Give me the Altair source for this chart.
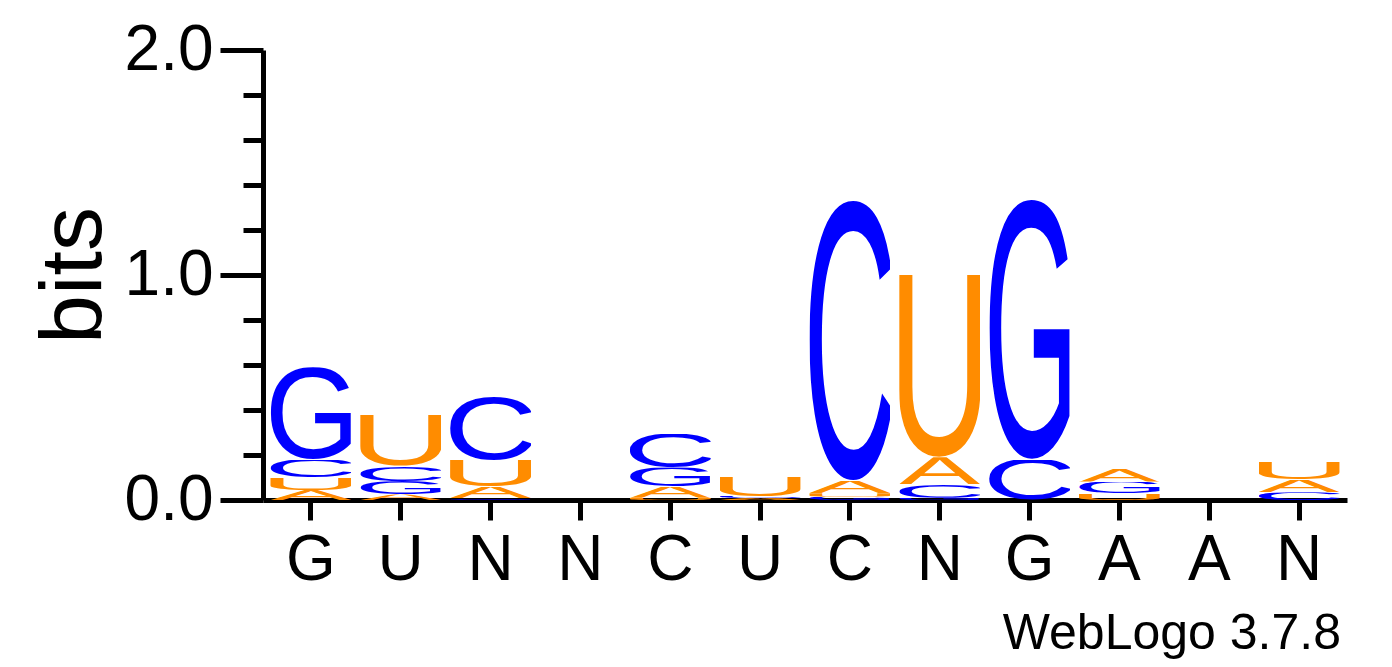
import base64
import altair as alt
import pandas as pd

# sequence logo: information content (bits) per letter at each position
positions = list(range(1, 13))
consensus = ["G", "U", "N", "N", "C", "U", "C", "N", "G", "A", "A", "N"]
bits_A = [0.045, 0.025, 0.05, 0.0, 0.05, 0.008, 0.055, 0.12, 0.0, 0.058, 0.0, 0.055]
bits_C = [0.08, 0.065, 0.28, 0.0, 0.15, 0.01, 1.25, 0.06, 0.18, 0.0, 0.0, 0.035]
bits_G = [0.41, 0.06, 0.008, 0.0, 0.085, 0.0, 0.015, 0.01, 1.16, 0.052, 0.0, 0.0]
bits_U = [0.055, 0.23, 0.12, 0.0, 0.01, 0.085, 0.015, 0.81, 0.0, 0.03, 0.0, 0.08]

COLORS = {"A": "#ff8c00", "U": "#ff8c00", "C": "#0000ff", "G": "#0000ff"}
# glyph box inside a 100-wide stretched letter: (left, right, top, bottom)
GLYPH_BOX = {"A": (0, 100, 68.8, 0), "C": (7, 93, 70.2, -1.2),
             "G": (6, 91, 70.2, -1.2), "U": (11, 89, 68.8, -1.2)}


def glyph_url(letter):
    l, r, t, b = GLYPH_BOX[letter]
    svg = (
        f'<svg xmlns="http://www.w3.org/2000/svg" viewBox="{l} {-t} {r - l} {t - b}" '
        f'preserveAspectRatio="none">'
        f'<text x="0" y="0" textLength="100" lengthAdjust="spacingAndGlyphs" '
        f'font-family="Liberation Sans, Arial, sans-serif" font-size="100" '
        f'fill="{COLORS[letter]}">{letter}</text></svg>'
    )
    return "data:image/svg+xml;base64," + base64.b64encode(svg.encode()).decode()


rows = []
for letter, vals in [("A", bits_A), ("C", bits_C), ("G", bits_G), ("U", bits_U)]:
    for p, v in zip(positions, vals):
        if v > 0:
            rows.append({"pos": p, "letter": letter, "bits": v})
df = pd.DataFrame(rows).sort_values(["pos", "bits"])
df["y1"] = df.groupby("pos")["bits"].cumsum()
df["y0"] = df["y1"] - df["bits"]
df["url"] = df["letter"].map(glyph_url)

label_expr = "[" + ",".join(f"'{c}'" for c in consensus) + "][datum.value - 1]"

chart = alt.Chart(df).mark_image(aspect=False).encode(
    x=alt.X("pos:O", title=None,
            scale=alt.Scale(domain=positions, paddingInner=0.1, paddingOuter=0.083),
            axis=alt.Axis(labelExpr=label_expr, labelAngle=0, tickSize=20,
                          labelFontSize=64, labelPadding=8)),
    y=alt.Y("y0:Q", title="bits", scale=alt.Scale(domain=[0, 2]),
            axis=alt.Axis(values=[0, 0.2, 0.4, 0.6, 0.8, 1.0, 1.2, 1.4, 1.6, 1.8, 2.0],
                          tickSize={"condition": {"test": "datum.value % 1 === 0", "value": 43},
                                    "value": 20},
                          labelExpr="datum.value % 1 === 0 ? format(datum.value, '.1f') : ''",
                          labelFontSize=64, labelPadding=7,
                          titleFontSize=88, titleFontWeight="normal", titlePadding=6)),
    y2="y1:Q",
    url="url:N",
).properties(
    width=1084,
    height=450,
    autosize=alt.AutoSizeParams(type="none"),
    padding={"left": 255, "top": 42, "right": 30, "bottom": 160},
    title=alt.TitleParams("WebLogo 3.7.8", orient="bottom", anchor="end",
                          fontSize=50, font="Liberation Sans", fontWeight="normal",
                          color="black", offset=17, dx=-6),
).configure_view(
    stroke=None
).configure_axis(
    grid=False,
    domainColor="black",
    domainWidth=5,
    tickColor="black",
    tickWidth=5,
    labelColor="black",
    titleColor="black",
    labelFont="Liberation Sans",
    titleFont="Liberation Sans",
)

chart.save("out.html", embed_options={"renderer": "svg", "actions": False})
